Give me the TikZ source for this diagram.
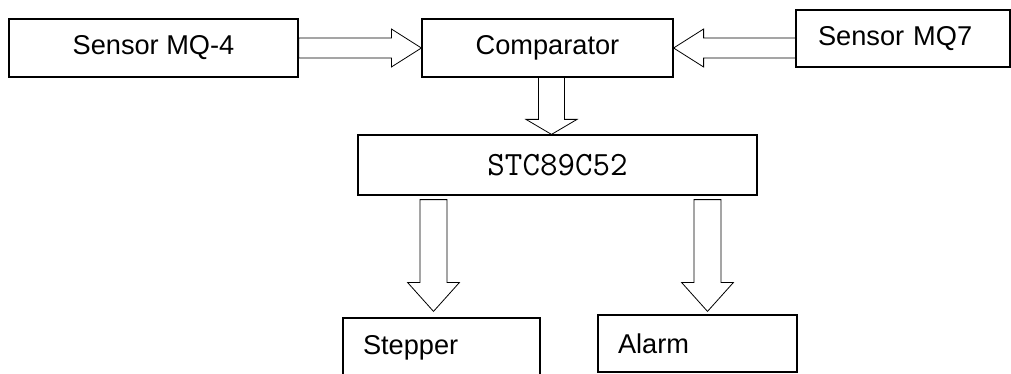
\documentclass[tikz,border=0pt]{standalone}
\usepackage{fontspec}
\setmainfont{Liberation Sans}
\usetikzlibrary{calc}

\tikzset{
  blk/.style={draw, line width=0.6pt, font=\fontsize{13.6}{16}\selectfont},
  fat/.style n args={3}{line width=0.6pt, to path={
    let \p1=(\tikztostart), \p2=(\tikztotarget),
        \p3=($(\p2)!#3!(\p1)$) in
    ($(\p1)!#1!90:(\p2)$) -- ($(\p3)!#1!90:(\p2)$) -- ($(\p3)!#2!90:(\p2)$)
    -- (\p2) -- ($(\p3)!#2!-90:(\p2)$) -- ($(\p3)!#1!-90:(\p2)$)
    -- ($(\p1)!#1!-90:(\p2)$) -- cycle}},
}

\begin{document}
\begin{tikzpicture}[x=0.5pt, y=-0.5pt]
    \useasboundingbox (0,0) rectangle (1011,374);

    % inputs
    \node[blk, minimum width=144.5pt, minimum height=29pt] (mq4) at (153.5,48) {Sensor MQ-4};
    \node[blk, minimum width=125.5pt, minimum height=29pt] (cmp) at (547.5,48) {Comparator};
    \node[blk, text width=85pt, inner xsep=11pt, minimum height=28.5pt, align=left] (mq7) at (903,38.5) {Sensor MQ7};

    % controller
    \node[blk, minimum width=199.5pt, minimum height=30pt, font=\ttfamily\fontsize{17}{20}\selectfont] (stc) at (557.5,165) {STC89C52};

    % outputs
    \node[blk, text width=78.5pt, inner xsep=10pt, minimum height=29.5pt, align=left] (stp) at (441.5,347.5) {Stepper};
    \node[blk, text width=79.5pt, inner xsep=10pt, minimum height=28.5pt, align=left] (alm) at (697.5,343.5) {Alarm};

    \coordinate (m7) at (mq7.west |- cmp.west);
    \coordinate (c1) at ($(cmp.south)+(4,0)$);
    \coordinate (c2) at (c1 |- stc.north);
    \coordinate (s1) at ($(stc.south)+(-124,4)$);
    \coordinate (t1) at ($(s1 |- stp.north)+(0,-6)$);
    \coordinate (s2) at ($(stc.south)+(150,4)$);
    \coordinate (t2) at ($(s2 |- alm.north)+(0,-3)$);

    \draw (mq4.east) to[fat={5pt}{9.5pt}{15pt}] (cmp.west);
    \draw (m7) to[fat={5pt}{9.5pt}{15pt}] (cmp.east);
    \draw (c1) to[fat={6.5pt}{12.75pt}{7.5pt}] (c2);
    \draw (s1) to[fat={6.75pt}{13pt}{14.5pt}] (t1);
    \draw (s2) to[fat={6.75pt}{13pt}{14.5pt}] (t2);
\end{tikzpicture}
\end{document}
